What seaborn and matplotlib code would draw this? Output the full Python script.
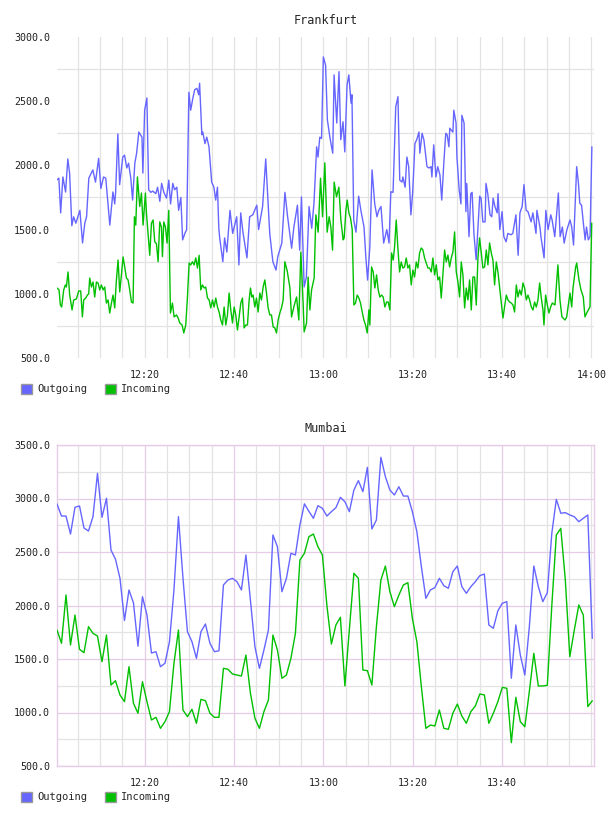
import numpy as np
import pandas as pd
import matplotlib
matplotlib.use("Agg")
import matplotlib.pyplot as plt
import seaborn as sns
from matplotlib.patches import Patch

# ---- data (minutes after 12:00, bytes/s) ----
series_names = ["Outgoing", "Incoming"]
clock_ticks = ["12:20", "12:40", "13:00", "13:20", "13:40", "14:00"]
tick_minutes = [20, 40, 60, 80, 100, 120]

# Frankfurt: (minute, value)
fra_out_pts = [
    (0.3, 1886), (0.8, 1900), (1.2, 1630), (1.7, 1910), (2.3, 1793), (2.8, 2050), (3.2, 1940),
    (3.7, 1530), (4.1, 1600), (4.6, 1550), (5.5, 1650), (6.1, 1396), (6.6, 1550), (7.0, 1600),
    (7.5, 1900), (8.4, 1965), (9.0, 1870), (9.7, 2055), (10.2, 1820), (10.8, 1910), (11.3, 1900),
    (12.2, 1535), (12.9, 1793), (13.3, 1700), (13.5, 1790), (14.0, 2245), (14.4, 1850), (15.1, 2065),
    (15.5, 2080), (16.0, 1980), (16.4, 2017), (16.9, 1900), (17.3, 1730), (17.8, 2017), (18.2, 2095),
    (18.7, 2260), (19.4, 2220), (19.6, 1940), (20.0, 2430), (20.5, 2525), (20.9, 1810), (21.4, 1790),
    (21.8, 1800), (22.5, 1780), (22.9, 1830), (23.4, 1720), (23.8, 1860), (24.3, 1790), (24.9, 1745),
    (25.4, 1885), (25.8, 1700), (26.3, 1860), (26.7, 1810), (27.2, 1830), (27.6, 1650), (28.1, 1750),
    (28.5, 1420), (29.0, 1470), (29.4, 1500), (29.9, 2570), (30.3, 2430), (30.8, 2525), (31.2, 2590),
    (31.7, 2600), (32.1, 2550), (32.3, 2640), (32.8, 2240), (33.0, 2260), (33.5, 2170), (33.9, 2220),
    (34.4, 2145), (35.0, 1870), (35.5, 1830), (35.9, 1730), (36.3, 1830), (36.6, 1510), (36.8, 1435),
    (37.5, 1250), (37.9, 1435), (38.4, 1325), (39.1, 1650), (39.7, 1470), (40.6, 1600), (41.1, 1225),
    (41.5, 1630), (42.0, 1480), (42.9, 1280), (43.5, 1600), (44.2, 1615), (45.1, 1690), (45.5, 1500),
    (46.4, 1680), (47.1, 2050), (48.0, 1470), (48.7, 1250), (49.4, 1185), (49.8, 1290), (50.7, 1395),
    (51.4, 1790), (52.0, 1600), (52.9, 1355), (53.4, 1520), (54.2, 1690), (54.7, 1340), (55.1, 1755),
    (55.7, 1053), (56.2, 1130), (56.8, 1680), (57.4, 1510), (57.9, 1705), (58.5, 2145), (58.8, 2065),
    (59.2, 2220), (59.6, 2210), (60.0, 2845), (60.5, 2780), (60.9, 2355), (61.5, 2210), (62.1, 2095),
    (62.4, 2705), (63.0, 2330), (63.5, 2730), (63.9, 2200), (64.4, 2340), (64.8, 2105), (65.3, 2625),
    (65.7, 2705), (66.2, 2485), (66.4, 2550), (66.8, 1575), (67.3, 1480), (67.9, 1760), (68.4, 1650),
    (69.1, 1520), (69.5, 1290), (69.9, 1107), (70.4, 1365), (70.9, 1965), (71.5, 1700), (72.0, 1600),
    (72.4, 1650), (72.9, 1680), (73.5, 1395), (74.2, 1500), (74.7, 1395), (75.1, 1795), (75.6, 1790),
    (76.2, 2455), (76.7, 2535), (77.1, 1885), (77.6, 1870), (77.8, 1910), (78.3, 1830), (78.7, 2065),
    (79.1, 1990), (79.6, 1615), (80.0, 1795), (80.5, 2170), (80.9, 2200), (81.4, 2260), (81.6, 2095),
    (82.1, 2250), (82.5, 2200), (83.2, 1990), (83.6, 1980), (84.1, 1990), (84.3, 1910), (84.7, 2160),
    (85.2, 1910), (85.6, 1990), (86.1, 1925), (86.5, 1730), (87.0, 2040), (87.4, 2250), (87.7, 2240),
    (88.1, 2145), (88.3, 2290), (88.6, 2275), (89.0, 2260), (89.2, 2430), (89.7, 2330), (89.9, 2065),
    (90.4, 1810), (90.8, 1700), (91.0, 2390), (91.5, 2330), (91.9, 1640), (92.1, 1860), (92.6, 1445),
    (93.0, 1780), (93.3, 1790), (93.7, 1470), (94.2, 1265), (94.6, 1520), (95.0, 1760), (95.3, 1745),
    (95.7, 1560), (96.2, 1560), (96.4, 1860), (96.8, 1780), (97.3, 1615), (97.7, 1600), (98.0, 1745),
    (98.4, 1680), (98.9, 1630), (99.1, 1780), (99.5, 1500), (100.0, 1640), (100.4, 1445), (100.9, 1405),
    (101.3, 1470), (102.0, 1460), (102.4, 1470), (103.1, 1615), (103.6, 1300), (104.0, 1630),
    (104.5, 1680), (104.9, 1850), (105.4, 1650), (105.8, 1640), (106.5, 1560), (106.9, 1630),
    (107.6, 1470), (107.8, 1650), (108.5, 1515), (108.7, 1445), (109.4, 1280), (109.8, 1650),
    (110.3, 1500), (110.9, 1615), (111.2, 1575), (111.8, 1445), (112.6, 1785), (113.0, 1445),
    (113.5, 1520), (113.9, 1395), (114.5, 1497), (115.2, 1575), (115.6, 1520), (116.0, 1380),
    (116.5, 1830), (116.7, 1990), (117.1, 1860), (117.4, 1705), (117.8, 1690), (118.2, 1550),
    (118.6, 1420), (118.9, 1520), (119.3, 1420), (119.7, 1445), (120.1, 2145),
]

fra_in_pts = [
    (0.39, 1045), (0.84, 1030), (1.13, 913), (1.43, 897), (1.88, 1030), (2.25, 1069), (2.48, 1053),
    (2.85, 1170), (3.22, 990), (3.75, 874), (4.12, 952), (4.72, 960), (5.24, 1022), (5.69, 1022),
    (6.06, 820), (6.36, 952), (6.81, 967), (7.18, 990), (7.48, 1000), (7.70, 1123), (8.08, 1053),
    (8.45, 1092), (8.82, 975), (9.20, 1092), (9.57, 1084), (9.94, 1030), (10.32, 1069), (10.69, 1030),
    (11.06, 1053), (11.44, 928), (11.81, 952), (12.18, 850), (12.56, 928), (12.93, 990), (13.30, 890),
    (13.68, 1108), (14.05, 1263), (14.42, 1014), (14.80, 1147), (15.17, 1287), (15.54, 1209),
    (15.92, 1123), (16.29, 1108), (16.66, 1030), (17.04, 936), (17.41, 928), (17.71, 1600),
    (18.01, 1535), (18.38, 1910), (18.90, 1680), (19.28, 1785), (19.65, 1535), (20.17, 1785),
    (20.40, 1630), (20.77, 1470), (21.14, 1300), (21.52, 1550), (21.89, 1575), (22.26, 1405),
    (22.64, 1390), (23.01, 1250), (23.38, 1560), (23.76, 1520), (23.98, 1290), (24.28, 1560),
    (24.65, 1520), (25.02, 1395), (25.40, 1650), (25.77, 850), (26.22, 928), (26.59, 820), (27.12, 835),
    (27.49, 812), (27.86, 773), (28.38, 757), (28.76, 695), (29.20, 757), (29.58, 975), (29.95, 1240),
    (30.32, 1225), (30.70, 1250), (31.07, 1225), (31.44, 1280), (31.82, 1200), (32.19, 1300),
    (32.56, 1030), (32.94, 1069), (33.31, 1045), (33.68, 1053), (34.06, 967), (34.43, 952), (34.80, 890),
    (35.18, 952), (35.55, 897), (35.92, 967), (36.30, 897), (36.67, 858), (37.04, 796), (37.42, 757),
    (37.79, 897), (38.16, 757), (38.54, 835), (38.91, 1006), (39.28, 874), (39.66, 773), (40.03, 897),
    (40.40, 835), (40.77, 718), (41.15, 820), (41.52, 928), (41.89, 967), (42.27, 734), (42.64, 757),
    (43.01, 757), (43.39, 952), (43.69, 1045), (43.98, 975), (44.28, 990), (44.66, 897), (45.03, 967),
    (45.40, 858), (45.78, 1006), (46.15, 952), (46.52, 1053), (46.90, 1108), (47.27, 1006), (47.64, 890),
    (48.02, 835), (48.39, 835), (48.76, 742), (49.14, 734), (49.51, 695), (49.88, 796), (50.26, 850),
    (50.63, 890), (51.00, 952), (51.38, 1250), (51.9, 1180), (52.50, 1050), (52.88, 820), (53.39, 897),
    (54.00, 975), (54.51, 796), (54.96, 1325), (55.47, 928), (55.70, 703), (56.24, 773), (56.59, 1130),
    (56.98, 874), (57.36, 1030), (57.94, 1123), (58.32, 1615), (58.83, 1480), (59.37, 1900),
    (59.82, 1600), (60.33, 2020), (60.85, 1480), (61.30, 1600), (61.68, 1520), (62.06, 1340),
    (62.42, 1870), (62.95, 1755), (63.47, 1830), (63.92, 1575), (64.43, 1420), (64.66, 1435),
    (65.04, 1650), (65.34, 1730), (65.71, 1630), (66.08, 1590), (66.46, 1500), (66.83, 913),
    (67.20, 928), (67.58, 990), (67.95, 967), (68.32, 928), (68.70, 858), (69.07, 796), (69.44, 757),
    (69.82, 695), (70.19, 874), (70.41, 757), (70.79, 1209), (71.16, 1170), (71.53, 1045),
    (71.91, 1147), (72.28, 1030), (72.65, 975), (73.03, 990), (73.40, 975), (73.77, 897), (74.15, 936),
    (74.52, 936), (74.89, 874), (75.27, 1318), (75.64, 1263), (75.94, 1365), (76.31, 1575),
    (76.68, 1357), (77.06, 1170), (77.43, 1248), (77.80, 1201), (78.18, 1209), (78.55, 1279),
    (78.92, 1201), (79.30, 1225), (79.67, 1069), (80.04, 1185), (80.42, 1131), (80.79, 1248),
    (81.16, 1201), (81.54, 1318), (81.91, 1357), (82.28, 1341), (82.66, 1279), (83.03, 1240),
    (83.40, 1201), (83.78, 1201), (84.15, 1170), (84.52, 1279), (84.90, 1147), (85.27, 1225),
    (85.64, 1108), (86.02, 1131), (86.39, 967), (86.76, 1147), (87.14, 1341), (87.51, 1248),
    (87.88, 1302), (88.26, 1209), (88.63, 1279), (89.00, 1326), (89.38, 1482), (89.75, 1170),
    (90.12, 1092), (90.50, 975), (90.87, 1248), (91.24, 1147), (91.62, 890), (91.99, 1045),
    (92.36, 952), (92.73, 1108), (93.11, 874), (93.48, 1131), (93.85, 1131), (94.23, 913),
    (94.60, 1279), (94.97, 1435), (95.35, 1318), (95.72, 1201), (96.09, 1209), (96.47, 1341),
    (96.84, 1225), (97.21, 1396), (97.59, 1318), (97.96, 1263), (98.33, 1069), (98.71, 1248),
    (99.08, 1170), (99.45, 1053), (99.83, 936), (100.20, 811), (100.57, 897), (100.95, 990),
    (101.32, 952), (101.69, 936), (102.07, 928), (102.44, 913), (102.81, 858), (103.19, 1069),
    (103.56, 975), (103.93, 1030), (104.31, 990), (104.68, 1084), (105.05, 1045), (105.43, 952),
    (105.80, 990), (106.17, 952), (106.55, 897), (106.92, 874), (107.29, 936), (107.66, 897),
    (108.04, 952), (108.41, 1084), (108.78, 967), (109.16, 874), (109.38, 757), (109.75, 990),
    (110.13, 913), (110.50, 850), (110.87, 897), (111.25, 928), (111.85, 913), (112.5, 1225),
    (112.96, 952), (113.4, 820), (114.1, 796), (114.47, 820), (115.2, 1006), (115.59, 897),
    (115.88, 1045), (116.48, 1209), (116.71, 1240), (117.22, 1108), (117.67, 1030), (118.18, 975),
    (118.56, 820), (118.94, 850), (119.30, 874), (119.68, 897), (120.07, 1550),
]

# Mumbai: one sample a minute
mum_out = [
    2949, 2836, 2836, 2668, 2918, 2930, 2724, 2696, 2830, 3235, 2824, 3002, 2519, 2432, 2254, 1860,
    2145, 2024, 1620, 2082, 1911, 1556, 1568, 1428, 1460, 1662, 2145, 2830, 2258, 1755, 1662, 1506,
    1755, 1827, 1647, 1568, 1577, 2192, 2238, 2254, 2223, 2145, 2472, 2050, 1615, 1413, 1584, 1771,
    2659, 2550, 2129, 2254, 2488, 2472, 2752, 2950, 2880, 2815, 2933, 2908, 2836, 2877, 2914, 3011,
    2970, 2877, 3079, 3167, 3064, 3291, 2715, 2799, 3385, 3204, 3079, 3033, 3110, 3023, 3023, 2877,
    2690, 2363, 2067, 2145, 2167, 2254, 2185, 2161, 2316, 2369, 2176, 2114, 2176, 2223, 2279, 2294,
    1818, 1787, 1950, 2021, 2036, 1320, 1818, 1537, 1350, 1800, 2369, 2176, 2036, 2120, 2675, 2992,
    2862, 2868, 2846, 2830, 2783, 2815, 2846, 1693,
]
mum_in = [
    1771, 1647, 2098, 1631, 1911, 1591, 1559, 1802, 1740, 1715, 1475, 1724, 1257, 1297, 1164, 1101,
    1428, 1086, 993, 1288, 1101, 930, 955, 852, 914, 1008, 1460, 1771, 1023, 961, 1030, 899,
    1123, 1110, 993, 955, 955, 1413, 1404, 1360, 1350, 1341, 1537, 1180, 946, 852, 1008, 1117,
    1724, 1584, 1320, 1350, 1506, 1740, 2425, 2488, 2643, 2668, 2550, 2472, 2000, 1640, 1818, 1890,
    1248, 1780, 2301, 2254, 1397, 1391, 1257, 1800, 2238, 2369, 2129, 1989, 2098, 2192, 2213, 1879,
    1662, 1241, 852, 883, 874, 1023, 852, 843, 993, 1079, 967, 899, 1008, 1061, 1173, 1164,
    899, 993, 1101, 1235, 1226, 718, 1142, 914, 867, 1195, 1553, 1248, 1248, 1254, 2000, 2659,
    2721, 2238, 1522, 1771, 2005, 1911, 1055, 1110,
]
mum_minutes = np.linspace(0.38, 120.2, len(mum_out))

palette = {"Outgoing": "#6666ff", "Incoming": "#00c000"}


def long_frame(parts):
    frames = []
    for name, minutes, values in parts:
        frames.append(pd.DataFrame({"minute": minutes, "value": values, "series": name}))
    return pd.concat(frames, ignore_index=True)


fra_df = long_frame([
    ("Outgoing", [p[0] for p in fra_out_pts], [p[1] for p in fra_out_pts]),
    ("Incoming", [p[0] for p in fra_in_pts], [p[1] for p in fra_in_pts]),
])
mum_df = long_frame([
    ("Outgoing", mum_minutes, mum_out),
    ("Incoming", mum_minutes, mum_in),
])

sns.set_style("white")
plt.rcParams["font.family"] = ["DejaVu Sans Mono", "DejaVu Sans"]

fig = plt.figure(figsize=(6.08, 8.16), dpi=100)
W, H = 608, 816
ax_fra = fig.add_axes([57 / W, 1 - 358 / H, 537 / W, 321 / H])
ax_mum = fig.add_axes([57 / W, 1 - 766 / H, 537 / W, 321 / H])

GREY = "#e3e3e3"
PINK = "#e6cce6"


def draw_panel(ax, df, title, ymax, n_labels, boxed):
    sns.lineplot(data=df, x="minute", y="value", hue="series", hue_order=series_names,
                 palette=palette, estimator=None, sort=True, legend=False,
                 linewidth=1.0, ax=ax, zorder=3)
    ax.set_xlim(0.38, 120.58)
    ax.set_ylim(500, ymax)
    major = np.arange(500, ymax + 1, 500)
    ax.set_yticks(major)
    ax.set_yticklabels([f"{v:.1f}" for v in major])
    ax.set_yticks(np.arange(750, ymax, 500), minor=True)
    ax.set_xticks(tick_minutes[:n_labels])
    ax.set_xticklabels(clock_ticks[:n_labels])
    ax.set_xticks(np.arange(5, 121, 5), minor=True)
    ax.tick_params(which="both", length=0, labelsize=7.2, colors="#222222")
    ax.tick_params(axis="y", pad=5)
    ax.tick_params(axis="x", pad=9)
    ax.grid(which="minor", color=GREY, linewidth=0.9)
    if boxed:
        ax.grid(which="major", color=PINK, linewidth=0.9)
        for s in ax.spines.values():
            s.set_visible(True)
            s.set_color(PINK)
            s.set_linewidth(1.0)
    else:
        ax.grid(which="major", axis="x", color=GREY, linewidth=0.9)
        for s in ax.spines.values():
            s.set_visible(False)
    ax.set_axisbelow(True)
    ax.set_xlabel("")
    ax.set_ylabel("")
    ax.set_title(title, fontsize=8.5, pad=9)


draw_panel(ax_fra, fra_df, "Frankfurt", 3000, 6, False)
draw_panel(ax_mum, mum_df, "Mumbai", 3500, 5, True)

for top in (384, 792):
    handles = [Patch(facecolor=palette[n], edgecolor="#999999", linewidth=1.0) for n in series_names]
    fig.legend(handles, series_names, loc="upper left", bbox_to_anchor=(21 / W, 1 - top / H),
               frameon=False, ncol=2, fontsize=7.5, handlelength=1.05, handleheight=1.05,
               handletextpad=0.5, columnspacing=1.7, borderpad=0, borderaxespad=0)

fig.savefig("out.png", dpi=100, facecolor="white")
